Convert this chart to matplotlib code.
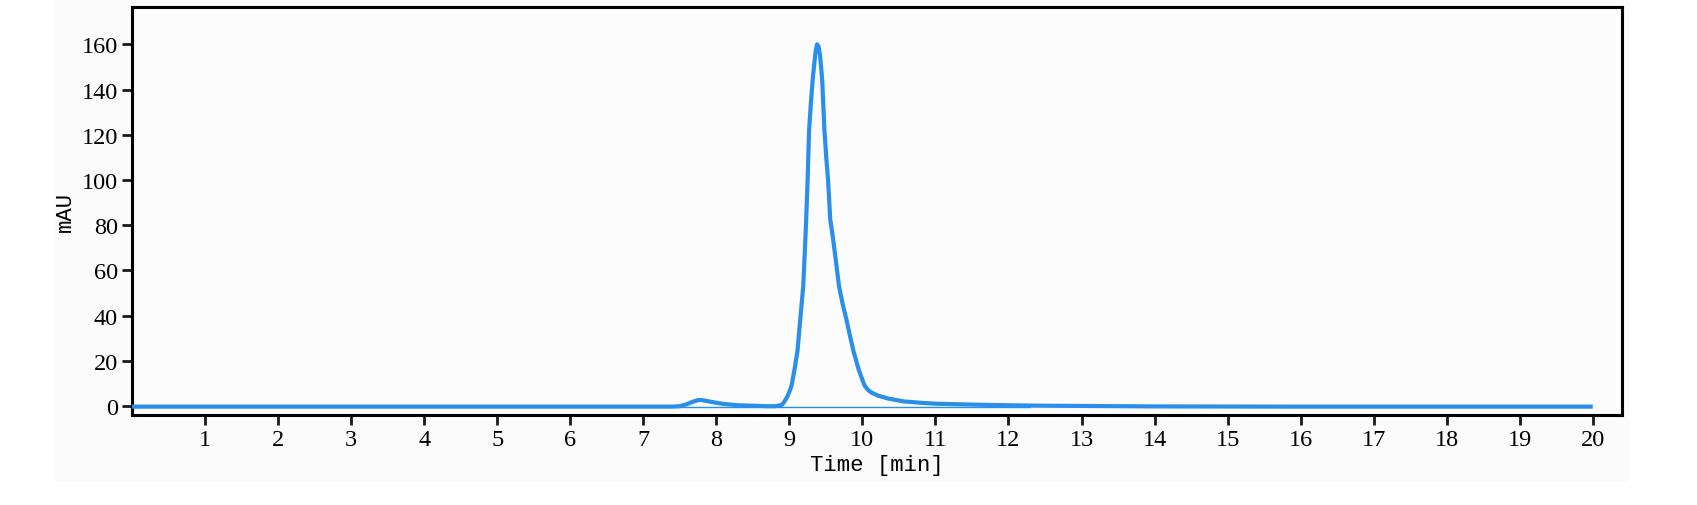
import matplotlib
matplotlib.use("Agg")
import matplotlib.pyplot as plt
from matplotlib.patches import Rectangle

# Retention time [min] and absorbance [mAU]
time_min = [0.0, 7.0, 7.4, 7.5, 7.6, 7.65, 7.7, 7.75, 7.8, 7.85, 7.9, 8.0, 8.1, 8.2, 8.3, 8.5,
            8.7, 8.8, 8.85, 8.9, 8.93, 8.97, 9.0, 9.03, 9.07, 9.11, 9.15, 9.19, 9.21,
            9.23, 9.25, 9.27, 9.295, 9.32, 9.34, 9.36, 9.38, 9.40, 9.42, 9.44, 9.45,
            9.465, 9.48, 9.505, 9.53, 9.56, 9.59, 9.63, 9.68, 9.73, 9.78, 9.83, 9.88,
            9.95, 10.0, 10.03, 10.08, 10.13, 10.22, 10.35, 10.57, 10.8, 11.0, 11.5,
            12.0, 12.5, 13.0, 14.0, 16.0, 20.0]
signal_mau = [-0.3, -0.3, -0.3, -0.1, 0.8, 1.5, 2.1, 2.6, 2.6, 2.3, 2.0, 1.4, 0.9, 0.6, 0.3, 0.1,
              -0.1, -0.1, 0.1, 0.6, 1.8, 4.0, 6.2, 9.0, 16.0, 24.0, 38.5, 53.0, 67.0,
              82.0, 100.0, 122.0, 134.0, 144.5, 151.0, 157.0, 160.0, 159.0, 155.0, 148.0, 144.0,
              133.0, 122.0, 110.0, 100.0, 82.5, 76.0, 66.0, 53.0, 45.0, 38.5, 31.0, 24.0,
              16.0, 11.5, 9.0, 7.0, 5.8, 4.5, 3.3, 2.0, 1.4, 1.0, 0.6,
              0.3, 0.1, 0.0, -0.2, -0.3, -0.3]

# Integration baseline segment
baseline_t = [7.45, 12.3]
baseline_v = [-0.5, -0.5]

x_ticks = list(range(1, 21))
y_ticks = list(range(0, 161, 20))

fig = plt.figure(figsize=(16.97, 5.06), dpi=100, facecolor="white")
fig.patches.append(Rectangle((55 / 1697, 23 / 506), (1630 - 55) / 1697, 483 / 506,
                             transform=fig.transFigure, facecolor="#fbfbfb",
                             edgecolor="none", zorder=-10))
ax = fig.add_axes([132 / 1697, 90 / 506, (1622 - 132) / 1697, (416 - 8) / 506])
ax.set_facecolor("#fcfcfc")

line_color = "#2a8fea"
ax.plot(baseline_t, baseline_v, color=line_color, lw=1.0, zorder=2)
ax.plot(time_min, signal_mau, color=line_color, lw=3.0, zorder=3,
        solid_joinstyle="round", solid_capstyle="butt")

ax.set_xlim(0, 20.4)
ax.set_ylim(-4, 176.5)
ax.set_xticks(x_ticks)
ax.set_yticks(y_ticks)

tick_font = {"family": "Liberation Serif", "size": 17.5}
ax.set_xticklabels([str(v) for v in x_ticks], fontdict=tick_font)
ax.set_yticklabels([str(v) for v in y_ticks], fontdict=tick_font)
ax.tick_params(axis="both", direction="out", length=7, width=2, colors="#1a1a1a",
               labelcolor="black", pad=3)

for s in ax.spines.values():
    s.set_linewidth(2.2)
    s.set_color("black")

label_font = {"family": "Liberation Mono", "size": 16}
ax.set_xlabel("Time [min]", fontdict=label_font, labelpad=3)
ax.set_ylabel("mAU", fontdict=label_font, labelpad=4)

fig.savefig("out.png", dpi=100, facecolor=fig.get_facecolor())
